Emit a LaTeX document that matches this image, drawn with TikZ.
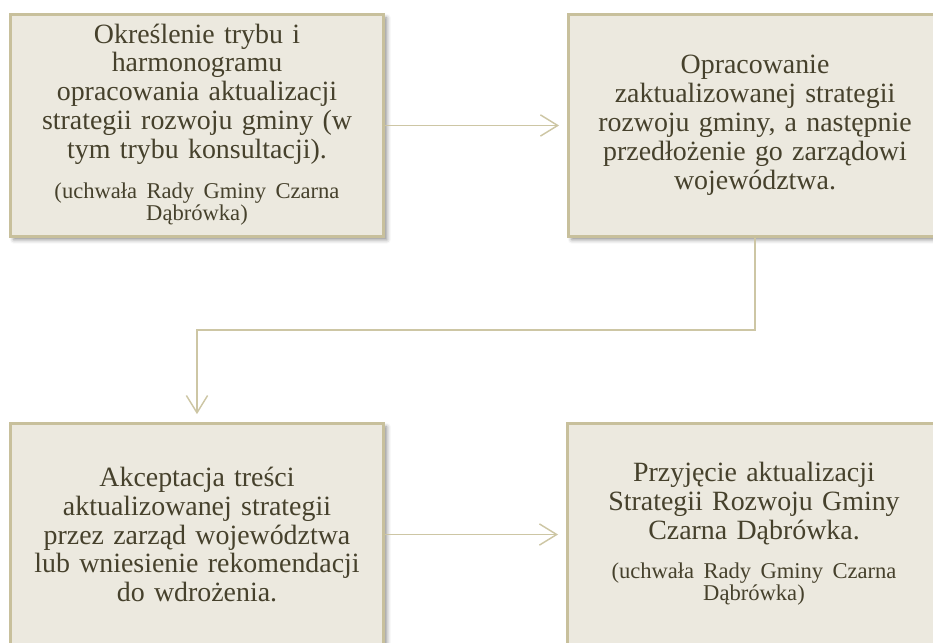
\documentclass[tikz,border=0pt]{standalone}
\usepackage{fontspec}
\setmainfont{Liberation Serif}
\usetikzlibrary{arrows.meta, shadows.blur}

\definecolor{boxfill}{HTML}{ECE9DF}
\definecolor{boxline}{HTML}{C8C09C}
\definecolor{boxtext}{HTML}{46412C}
\definecolor{linkline}{HTML}{CDC6A4}

\newcommand{\mainsize}{\fontsize{21pt}{21.75pt}\selectfont}
\newcommand{\notesize}{\fontsize{17pt}{16pt}\selectfont}
\newcommand{\resolution}{\par\vspace{13pt}{\notesize
  \begin{tabular}[t]{@{}c@{}}(uchwała Rady Gminy Czarna\\
  Dąbrówka)\end{tabular}\par}}

\begin{document}
\begin{tikzpicture}[
    stage/.style={draw=boxline, line width=2.2pt, fill=boxfill,
      text=boxtext, minimum width=9.87cm, minimum height=5.87cm,
      text width=9.3cm, align=center, font=\mainsize, inner sep=0pt,
      blur shadow={shadow xshift=2.5pt, shadow yshift=-2.5pt,
        shadow blur radius=3pt, shadow opacity=45}},
    link/.style={draw=linkline, line width=1.1pt,
      -{Straight Barb[length=13pt, width=16pt]}, shorten >=6pt},
]
\clip (0,0) rectangle (24.685,-16.986);

% Stages
\node[stage] (define) at (5.212,-3.320) {Określenie trybu i\\
  harmonogramu\\ opracowania aktualizacji\\ strategii rozwoju gminy (w\\
  tym trybu konsultacji).\resolution};
\node[stage] (draft) at (19.976,-3.320) {Opracowanie\\
  zaktualizowanej strategii\\ rozwoju gminy, a następnie\\
  przedłożenie go zarządowi\\ województwa.};
\node[stage] (accept) at (5.212,-14.142) {Akceptacja treści\\
  aktualizowanej strategii\\ przez zarząd województwa\\
  lub wniesienie rekomendacji\\ do wdrożenia.};
\node[stage] (adopt) at (19.949,-14.142) {Przyjęcie aktualizacji\\
  Strategii Rozwoju Gminy\\ Czarna Dąbrówka.\resolution};

% Links
\coordinate (bend) at (5.212,-8.731);
\draw[link] (define.east) -- (draft.west);
\draw[link] (draft.south) |- (bend) -- (accept.north);
\draw[link] (accept.east) -- (adopt.west);

\end{tikzpicture}
\end{document}
